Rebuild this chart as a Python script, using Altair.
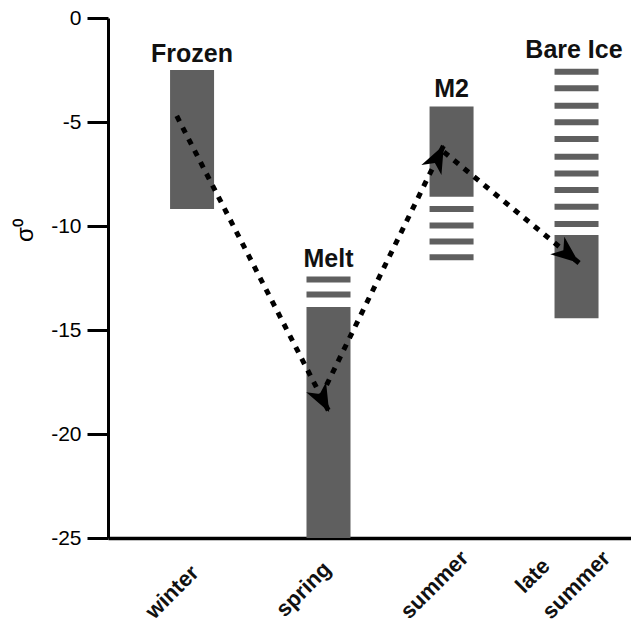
import math
import altair as alt
import pandas as pd

# ---- data ----
states = ["Frozen", "Melt", "M2", "Bare Ice"]
state_pos = [0.985, 2.055, 3.02, 4.0]          # bar centres on x
solid_top = [-2.5, -13.9, -4.26, -10.43]
solid_bottom = [-9.18, -25.0, -8.59, -14.44]
label_x = [0.985, 2.055, 3.02, 3.98]
label_y = [-2.12, -11.97, -3.8, -1.92]

# hatched (dashed) ranges: state index + value
dash_state = [1, 1,
              2, 2, 2, 2,
              3, 3, 3, 3, 3, 3, 3, 3, 3, 3]
dash_value = [-12.57, -13.29,
              -9.18, -9.98, -10.75, -11.5,
              -2.58, -3.38, -4.22, -5.01, -5.82, -6.67, -7.47, -8.27, -9.07, -9.90]

# arrows (start -> tip)
arrow_x1 = [0.865, 2.04, 2.96]
arrow_y1 = [-4.71, -17.64, -6.44]
arrow_x2 = [2.06, 2.96, 4.02]
arrow_y2 = [-18.94, -6.10, -11.78]

# x-axis category labels (one row per text line)
season_text = ["winter", "spring", "summer", "late", "summer"]
season_x = [0.688, 1.712, 2.688, 3.59, 3.80]
season_y = [-28.94, -28.85, -28.94, -27.70, -28.95]

y_ticks = [0, -5, -10, -15, -20, -25]

# ---- layout constants ----
W, H = 523, 520
XDOM = [0.365, 4.388]
YDOM = [-25, 0]
GRAY = "#5f5f5f"
FONT = "Liberation Sans"

px_x = W / (XDOM[1] - XDOM[0])
px_y = H / (YDOM[1] - YDOM[0])

bars = pd.DataFrame({"state": states, "pos": state_pos,
                     "top": solid_top, "bottom": solid_bottom})
dashes = pd.DataFrame({"pos": [state_pos[i] for i in dash_state], "v": dash_value})
labels = pd.DataFrame({"state": states, "x": label_x, "y": label_y})
seasons = pd.DataFrame({"t": season_text, "x": season_x, "y": season_y})

angles = []
for a, b, c, d in zip(arrow_x1, arrow_y1, arrow_x2, arrow_y2):
    dx = (c - a) * px_x
    dy = -(d - b) * px_y
    angles.append(math.degrees(math.atan2(dx, -dy)) % 360)
arrows = pd.DataFrame({"x1": arrow_x1, "y1": arrow_y1, "x2": arrow_x2,
                       "y2": arrow_y2, "angle": angles})

xscale = alt.Scale(domain=XDOM, nice=False, zero=False)
yscale = alt.Scale(domain=YDOM, nice=False, zero=False)

xaxis = alt.Axis(labels=False, title=None, grid=False, ticks=False, tickSize=0,
                 domainWidth=3.5, domainColor="black")
yaxis = alt.Axis(values=y_ticks, title="σ⁰", grid=False, tickSize=21, tickWidth=3,
                 tickColor="black", domainWidth=3, domainColor="black",
                 labelExpr="'' + datum.value",
                 labelFont=FONT, labelFontSize=21, labelColor="black", labelPadding=6,
                 titleFont=FONT, titleFontSize=24, titleFontWeight="normal",
                 titleColor="black", titleX=-83, titleY=212, titleAngle=270,
                 titleAlign="center", titleBaseline="middle")

bar_layer = alt.Chart(bars).mark_bar(width=44, color=GRAY).encode(
    x=alt.X("pos:Q", scale=xscale, axis=xaxis),
    y=alt.Y("top:Q", scale=yscale, axis=yaxis),
    y2="bottom:Q",
)

dash_layer = alt.Chart(dashes).mark_tick(orient="horizontal", size=44, thickness=6,
                                         color=GRAY, opacity=1).encode(
    x=alt.X("pos:Q", scale=xscale),
    y=alt.Y("v:Q", scale=yscale),
)

text_layer = alt.Chart(labels).mark_text(font=FONT, fontSize=25, fontWeight="bold",
                                         color="#111111", align="center",
                                         baseline="alphabetic").encode(
    x=alt.X("x:Q", scale=xscale),
    y=alt.Y("y:Q", scale=yscale),
    text="state:N",
)

season_layer = alt.Chart(seasons).mark_text(font=FONT, fontSize=22, fontWeight="bold",
                                            color="#111111", align="left",
                                            baseline="alphabetic", angle=315).encode(
    x=alt.X("x:Q", scale=xscale),
    y=alt.Y("y:Q", scale=yscale),
    text="t:N",
)

line_layer = alt.Chart(arrows).mark_rule(strokeDash=[6, 7], strokeWidth=5,
                                         color="black").encode(
    x=alt.X("x1:Q", scale=xscale), y=alt.Y("y1:Q", scale=yscale),
    x2="x2:Q", y2="y2:Q",
)

head_layer = alt.Chart(arrows).mark_point(
    shape="M0,0 L0.4,1 L0,0.72 L-0.4,1 Z", filled=True, opacity=1,
    color="black", size=3136, strokeWidth=0).encode(
    x=alt.X("x2:Q", scale=xscale), y=alt.Y("y2:Q", scale=yscale),
    angle=alt.Angle("angle:Q", scale=None),
)

chart = alt.layer(bar_layer, dash_layer, line_layer, head_layer, text_layer,
                  season_layer).properties(
    width=W, height=H,
    autosize=alt.AutoSizeParams(type="none"),
    padding={"left": 108, "top": 18, "right": 0, "bottom": 88},
    background="white",
).configure_view(stroke=None)

chart.save("out.html", embed_options={"renderer": "svg", "actions": False})
